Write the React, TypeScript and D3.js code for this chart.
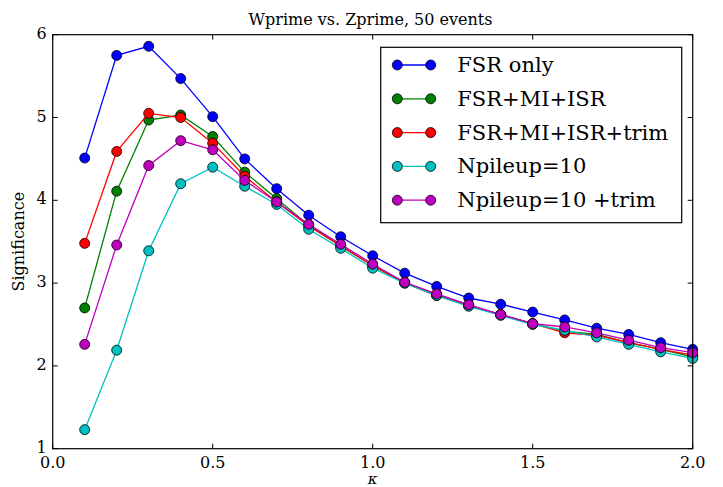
import React from "react";
import * as d3 from "d3";

const kappa = [0.1, 0.2, 0.3, 0.4, 0.5, 0.6, 0.7, 0.8, 0.9, 1.0, 1.1, 1.2, 1.3, 1.4, 1.5, 1.6, 1.7, 1.8, 1.9, 2.0];
const fsrOnly = [4.51, 5.75, 5.86, 5.47, 5.01, 4.50, 4.14, 3.82, 3.56, 3.33, 3.12, 2.96, 2.82, 2.745, 2.65, 2.555, 2.455, 2.38, 2.28, 2.20];
const fsrMiIsr = [2.70, 4.11, 4.97, 5.03, 4.77, 4.34, 4.02, 3.70, 3.45, 3.21, 3.01, 2.86, 2.73, 2.62, 2.51, 2.42, 2.38, 2.28, 2.20, 2.11];
const fsrMiIsrTrim = [3.48, 4.59, 5.05, 5.00, 4.69, 4.29, 3.98, 3.69, 3.45, 3.21, 3.00, 2.85, 2.73, 2.62, 2.51, 2.40, 2.37, 2.28, 2.20, 2.13];
const npileup10 = [1.23, 2.19, 3.39, 4.20, 4.40, 4.17, 3.95, 3.65, 3.42, 3.18, 3.00, 2.85, 2.72, 2.61, 2.50, 2.43, 2.35, 2.26, 2.17, 2.09];
const npileup10Trim = [2.26, 3.46, 4.42, 4.72, 4.61, 4.24, 3.98, 3.71, 3.47, 3.23, 3.01, 2.87, 2.74, 2.62, 2.51, 2.47, 2.40, 2.31, 2.22, 2.16];

const seriesNames = ["FSR only", "FSR+MI+ISR", "FSR+MI+ISR+trim", "Npileup=10", "Npileup=10 +trim"];
const seriesValues = [fsrOnly, fsrMiIsr, fsrMiIsrTrim, npileup10, npileup10Trim];
const seriesColors = ["#0000ff", "#008000", "#ff0000", "#00bfbf", "#bf00bf"];

const xTicks = [0.0, 0.5, 1.0, 1.5, 2.0];
const yTicks = [1, 2, 3, 4, 5, 6];

const W = 723, H = 487;
const L = 52.7, R = 692.7, T = 34.7, B = 448.7;
const font = "DejaVu Serif";

export default function App() {
  const x = d3.scaleLinear().domain([0, 2]).range([L, R]);
  const y = d3.scaleLinear().domain([1, 6]).range([B, T]);
  const line = d3.line<[number, number]>().x(d => x(d[0])).y(d => y(d[1]));

  const legX = 380.7, legY = 47.3, legW = 301, legH = 175.4;
  const rowY = (i: number) => 65 + i * 33.8;

  return (
    <svg width={W} height={H} style={{ position: "absolute", left: 0, top: 0, background: "#fff" }} fontFamily={font}>
      <rect x={0} y={0} width={W} height={H} fill="#fff" />
      <text x={370.5} y={25} textAnchor="middle" fontSize={16}>Wprime vs. Zprime, 50 events</text>
      {seriesValues.map((vals, i) => (
        <g key={i}>
          <path d={line(kappa.map((k, j) => [k, vals[j]]) as [number, number][]) || ""} fill="none" stroke={seriesColors[i]} strokeWidth={1.3} />
          {kappa.map((k, j) => (
            <circle key={j} cx={x(k)} cy={y(vals[j])} r={5} fill={seriesColors[i]} stroke="#000" strokeWidth={0.8} />
          ))}
        </g>
      ))}
      <rect x={L} y={T} width={R - L} height={B - T} fill="none" stroke="#000" strokeWidth={1.2} />
      {xTicks.map((t, i) => (
        <g key={i}>
          <line x1={x(t)} x2={x(t)} y1={B} y2={B - 5} stroke="#000" />
          <line x1={x(t)} x2={x(t)} y1={T} y2={T + 5} stroke="#000" />
          <text x={x(t)} y={468} textAnchor="middle" fontSize={16}>{t.toFixed(1)}</text>
        </g>
      ))}
      {yTicks.map((t, i) => (
        <g key={i}>
          <line x1={L} x2={L + 5} y1={y(t)} y2={y(t)} stroke="#000" />
          <line x1={R} x2={R - 5} y1={y(t)} y2={y(t)} stroke="#000" />
          <text x={L - 6} y={y(t) + 4} textAnchor="end" fontSize={16}>{t}</text>
        </g>
      ))}
      <text x={(L + R) / 2} y={484} textAnchor="middle" fontStyle="italic" fontSize={15}>κ</text>
      <text transform={`translate(24,${(T + B) / 2}) rotate(-90)`} textAnchor="middle" fontSize={16}>Significance</text>
      <rect x={legX} y={legY} width={legW} height={legH} fill="#fff" stroke="#000" strokeWidth={1.2} />
      {seriesNames.map((n, i) => (
        <g key={i}>
          <line x1={397.3} x2={430.7} y1={rowY(i)} y2={rowY(i)} stroke={seriesColors[i]} strokeWidth={1.3} />
          <circle cx={397.3} cy={rowY(i)} r={5} fill={seriesColors[i]} stroke="#000" strokeWidth={0.8} />
          <circle cx={430.7} cy={rowY(i)} r={5} fill={seriesColors[i]} stroke="#000" strokeWidth={0.8} />
          <text x={457.3} y={rowY(i) + 7} fontSize={21}>{n}</text>
        </g>
      ))}
    </svg>
  );
}
